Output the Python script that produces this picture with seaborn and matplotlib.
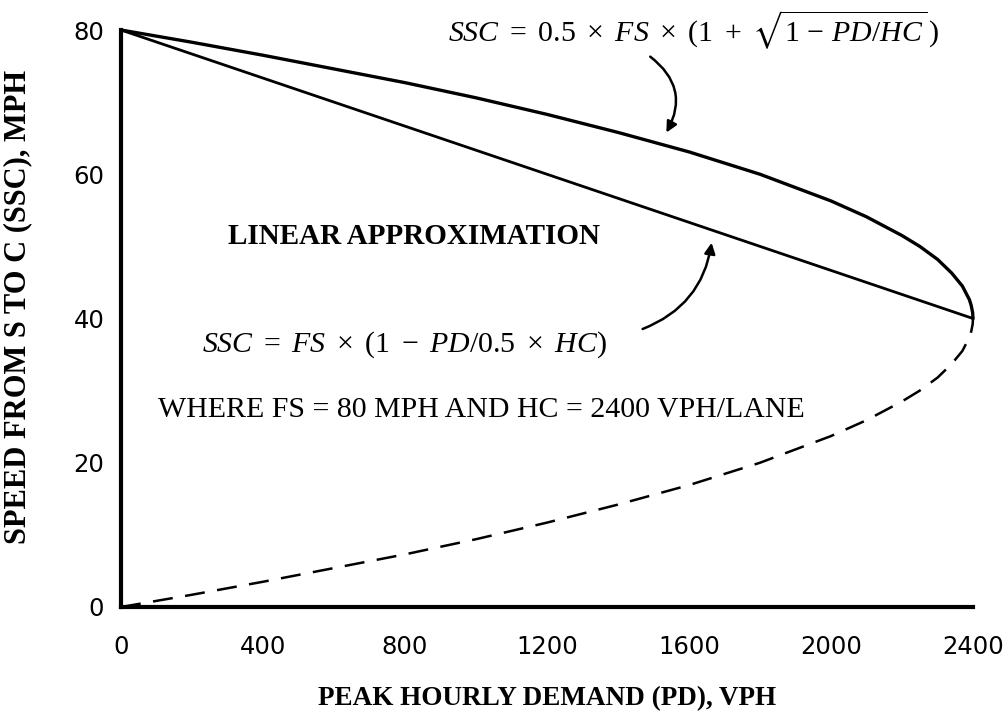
import matplotlib
matplotlib.use("Agg")
import matplotlib.pyplot as plt
import seaborn as sns
import pandas as pd

# ---- data ----
pd_upper = [0, 200, 400, 600, 800, 1000, 1200, 1400, 1600, 1800, 2000, 2100, 2200, 2250, 2300, 2340, 2370, 2390, 2395, 2399, 2400]
ssc_upper = [80, 78.3, 76.5, 74.6, 72.7, 70.6, 68.3, 65.8, 63.1, 60.0, 56.3, 54.1, 51.5, 50.0, 48.2, 46.3, 44.5, 42.6, 41.8, 40.8, 40]
pd_lower = [0, 200, 400, 600, 800, 1000, 1200, 1400, 1600, 1800, 2000, 2100, 2200, 2250, 2300, 2340, 2370, 2390, 2395, 2399, 2400]
ssc_lower = [0, 1.7, 3.5, 5.4, 7.3, 9.4, 11.7, 14.2, 16.9, 20.0, 23.7, 25.9, 28.5, 30.0, 31.8, 33.7, 35.5, 37.4, 38.2, 39.2, 40]
pd_linear = [0, 2400]
ssc_linear = [80, 40]
x_ticks = [0, 400, 800, 1200, 1600, 2000, 2400]
y_ticks = [0, 20, 40, 60, 80]

sns.set_style("white")
plt.rcParams["font.family"] = ["Liberation Serif", "DejaVu Serif"]
plt.rcParams["mathtext.fontset"] = "custom"
plt.rcParams["mathtext.rm"] = "Liberation Serif"
plt.rcParams["mathtext.it"] = "Liberation Serif:italic"
plt.rcParams["mathtext.bf"] = "Liberation Serif:bold"
plt.rcParams["mathtext.fallback"] = "stix"
plt.rcParams["text.color"] = "black"
plt.rcParams["axes.labelcolor"] = "black"
plt.rcParams["xtick.color"] = "black"
plt.rcParams["ytick.color"] = "black"

W, H = 1008, 722
fig = plt.figure(figsize=(W / 100, H / 100), dpi=100)
ax = fig.add_axes([121 / W, 1 - 607 / H, (973 - 121) / W, (607 - 30) / H])

up = pd.DataFrame({"PD": pd_upper, "SSC": ssc_upper})
lo = pd.DataFrame({"PD": pd_lower, "SSC": ssc_lower})
li = pd.DataFrame({"PD": pd_linear, "SSC": ssc_linear})

sns.lineplot(data=up, x="PD", y="SSC", ax=ax, color="black", lw=2.4, sort=False, clip_on=False)
sns.lineplot(data=li, x="PD", y="SSC", ax=ax, color="black", lw=2.0, sort=False, clip_on=False)
sns.lineplot(data=lo, x="PD", y="SSC", ax=ax, color="black", lw=1.8, sort=False, clip_on=False,
             linestyle=(0, (8, 5)))

ax.set_xlim(0, 2400)
ax.set_ylim(0, 80)
ax.set_xticks(x_ticks)
ax.set_yticks(y_ticks)
ax.set_xticklabels([str(v) for v in x_ticks], fontfamily="DejaVu Sans", fontsize=17.5, color="black")
ax.set_yticklabels([str(v) for v in y_ticks], fontfamily="DejaVu Sans", fontsize=17.5, color="black")
ax.tick_params(axis="x", direction="out", length=6, width=1.5, pad=14, color="black")
ax.tick_params(axis="y", direction="out", length=6, width=1.5, pad=6, color="black")

for s in ["top", "right"]:
    ax.spines[s].set_visible(False)
for s in ["left", "bottom"]:
    ax.spines[s].set_linewidth(3)
    ax.spines[s].set_color("black")

ax.set_xlabel("PEAK HOURLY DEMAND (PD), VPH", fontsize=19.5, fontweight="bold", labelpad=20,
              color="black")
ax.set_ylabel("SPEED FROM S TO C (SSC), MPH", fontsize=22, fontweight="bold", color="black")
ax.yaxis.set_label_coords(-0.104, 0.52)


def fp(x, y):
    return (x / W, 1 - y / H)


fig.text(*fp(694, 30), r"$SSC\ =\ 0.5\ \times\ FS\ \times\ (1\ +\ \sqrt{1\,-\,PD/HC}\,)$",
         fontsize=21.5, ha="center", va="center", color="black")
fig.text(*fp(414, 236), "LINEAR APPROXIMATION", fontsize=21, fontweight="bold",
         ha="center", va="center", color="black")
fig.text(*fp(405, 345), r"$SSC\ =\ FS\ \times\ (1\ -\ PD/0.5\ \times\ HC)$",
         fontsize=21.5, ha="center", va="center", color="black")
fig.text(*fp(481, 410), "WHERE FS = 80 MPH AND HC = 2400 VPH/LANE", fontsize=21.5,
         ha="center", va="center", color="black")

ax.annotate("", xy=(665, H - 135), xytext=(648, H - 55), xycoords="figure pixels",
            textcoords="figure pixels",
            arrowprops=dict(arrowstyle="-|>", connectionstyle="arc3,rad=-0.45",
                            color="black", lw=1.8, mutation_scale=16))
ax.annotate("", xy=(712, H - 240), xytext=(640, H - 330), xycoords="figure pixels",
            textcoords="figure pixels",
            arrowprops=dict(arrowstyle="-|>", connectionstyle="arc3,rad=0.3",
                            color="black", lw=1.8, mutation_scale=16))

fig.savefig("out.png", dpi=100)
